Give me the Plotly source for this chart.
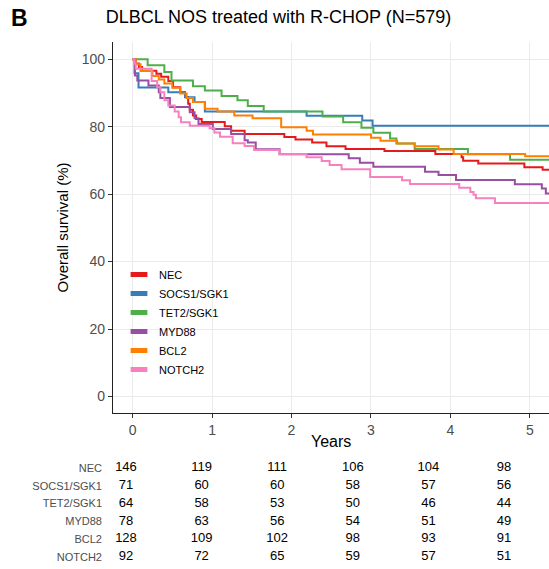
import plotly.graph_objects as go

# ---------------- data ----------------
groups = ["NEC", "SOCS1/SGK1", "TET2/SGK1", "MYD88", "BCL2", "NOTCH2"]
colors = ["#E41A1C", "#377EB8", "#4DAF4A", "#984EA3", "#FF7F00", "#F781BF"]

nec_time = [0, 0.04, 0.08, 0.12, 0.30, 0.36, 0.45, 0.51, 0.60, 0.66, 0.70, 0.72, 0.76, 0.80, 0.87,
            1.16, 1.24, 1.41, 1.91, 2.05, 2.26, 2.44, 2.68, 3.17, 3.81, 4.14, 4.16, 4.35, 4.93, 5.16, 5.5]
nec_surv = [100, 98.7, 97.7, 96.6, 95.7, 94.8, 93.5, 91.7, 90.2, 88.8, 86.8, 85.0, 83.3, 82.3, 81.4,
            80.1, 78.8, 77.8, 76.9, 76.2, 75.3, 74.2, 73.4, 72.8, 71.9, 70.9, 69.9, 69.1, 68.0, 67.2, 67.2]

socs1_time = [0, 0.025, 0.075, 0.45, 0.66, 0.78, 0.91, 2.19, 2.89, 3.02, 5.5]
socs1_surv = [100, 95.8, 91.6, 90.2, 88.7, 87.3, 84.5, 83.2, 81.8, 80.3, 80.3]

tet2_time = [0, 0.19, 0.40, 0.49, 0.76, 0.91, 1.12, 1.32, 1.45, 1.65, 2.39, 2.65, 2.88, 3.03,
             3.24, 3.32, 3.55, 4.22, 4.75, 5.5]
tet2_surv = [100, 98.2, 96.2, 93.7, 92.0, 90.7, 89.1, 87.8, 86.1, 84.5, 83.0, 81.3, 79.7, 78.2,
             76.5, 75.0, 73.4, 71.8, 70.2, 70.2]

myd88_time = [0, 0.03, 0.06, 0.20, 0.33, 0.35, 0.47, 0.72, 0.78, 0.83, 1.01, 1.24, 1.41, 1.45,
              1.55, 1.85, 2.72, 2.86, 3.03, 3.68, 3.85, 4.07, 4.81, 5.15, 5.20, 5.5]
myd88_surv = [100, 95.2, 93.7, 92.2, 90.2, 88.5, 85.8, 84.3, 82.5, 80.8, 79.3, 77.8, 76.0, 75.3,
              73.3, 71.8, 70.6, 69.3, 68.1, 66.6, 65.7, 64.2, 62.9, 61.7, 60.2, 60.2]

bcl2_time = [0, 0.04, 0.10, 0.25, 0.33, 0.40, 0.50, 0.60, 0.68, 0.76, 0.91, 1.07, 1.28, 1.51,
             1.87, 2.19, 2.27, 3.0, 3.12, 3.33, 3.55, 3.85, 4.04, 4.94, 5.5]
bcl2_surv = [100, 98.5, 96.5, 95.0, 94.0, 92.8, 91.5, 89.8, 88.5, 87.3, 85.3, 84.5, 83.3, 82.5,
             79.8, 78.8, 77.7, 76.7, 75.8, 75.0, 74.2, 73.2, 71.9, 71.2, 71.2]

notch2_time = [0, 0.02, 0.04, 0.24, 0.31, 0.35, 0.40, 0.45, 0.53, 0.58, 0.61, 0.72, 0.97, 1.03,
               1.10, 1.26, 1.41, 1.53, 1.85, 2.19, 2.38, 2.48, 2.63, 2.99, 3.39, 3.49, 4.11,
               4.25, 4.29, 4.32, 4.56, 5.5]
notch2_surv = [100, 98.7, 97.2, 93.5, 91.7, 90.2, 87.8, 86.3, 84.5, 82.8, 81.3, 80.3, 79.5, 78.3,
               77.0, 75.1, 74.3, 73.1, 71.9, 70.9, 69.8, 68.6, 67.4, 65.1, 64.1, 63.0, 61.9,
               60.6, 59.8, 58.8, 57.4, 57.4]

risk_times = [0, 1, 2, 3, 4, 5]
nec_risk = [146, 119, 111, 106, 104, 98]
socs1_risk = [71, 60, 60, 58, 57, 56]
tet2_risk = [64, 58, 53, 50, 46, 44]
myd88_risk = [78, 63, 56, 54, 51, 49]
bcl2_risk = [128, 109, 102, 98, 93, 91]
notch2_risk = [92, 72, 65, 59, 57, 51]

x_ticks = [0, 1, 2, 3, 4, 5]
y_ticks = [0, 20, 40, 60, 80, 100]

curves = [(nec_time, nec_surv), (socs1_time, socs1_surv), (tet2_time, tet2_surv),
          (myd88_time, myd88_surv), (bcl2_time, bcl2_surv), (notch2_time, notch2_surv)]
risks = [nec_risk, socs1_risk, tet2_risk, myd88_risk, bcl2_risk, notch2_risk]

FONT = "Liberation Sans, Arial, sans-serif"

fig = go.Figure()

for g, c, (t, s) in zip(groups, colors, curves):
    fig.add_trace(go.Scatter(x=t, y=s, mode="lines", line=dict(color=c, width=2, shape="hv"),
                             name=g, showlegend=False, hoverinfo="skip"))

# legend swatches
for g, c in zip(groups, colors):
    fig.add_trace(go.Scatter(x=[None], y=[None], mode="markers", name=g, legendgroup=g,
                             marker=dict(symbol="line-ew", size=12, color=c,
                                         line=dict(width=6, color=c)),
                             showlegend=True))

# risk table
for i, (g, r) in enumerate(zip(groups, risks)):
    fig.add_trace(go.Scatter(x=risk_times, y=[i] * len(r), text=[str(v) for v in r],
                             mode="text", textfont=dict(size=13, color="black", family=FONT),
                             xaxis="x2", yaxis="y2", showlegend=False, hoverinfo="skip"))

W, H = 549, 569
L, T = 113, 42
ph = H - T


def py(px):
    return (H - px) / ph


def pxx(px):
    return (px - L) / (W - L)


fig.update_layout(
    width=W, height=H,
    margin=dict(l=L, r=0, t=T, b=0, pad=0),
    plot_bgcolor="white", paper_bgcolor="white",
    font=dict(family=FONT, color="black"),
    title=dict(text="DLBCL NOS treated with R-CHOP (N=579)", x=278.5 / W, xanchor="center",
               y=1 - 16.5 / H, yanchor="middle", font=dict(size=18, color="black")),
    xaxis=dict(domain=[0, 1], range=[-0.246, 5.24], tickvals=x_ticks, showgrid=True,
               gridcolor="#EBEBEB", gridwidth=1, zeroline=False, showline=True,
               linecolor="#222", linewidth=1.2, ticks="outside", ticklen=4, tickcolor="#333",
               tickfont=dict(size=14, color="#4D4D4D"), anchor="y"),
    yaxis=dict(domain=[py(413), 1], range=[-4.9, 105.1], tickvals=y_ticks, showgrid=True,
               gridcolor="#EBEBEB", gridwidth=1, zeroline=False, showline=True,
               linecolor="#222", linewidth=1.2, ticks="outside", ticklen=4, tickcolor="#333",
               tickfont=dict(size=14, color="#4D4D4D"), anchor="x"),
    xaxis2=dict(domain=[0, 1], range=[-0.172, 5.595], visible=False, anchor="y2"),
    yaxis2=dict(domain=[py(565.9), py(459.1)], range=[5.5, -0.5], tickvals=list(range(6)),
                ticktext=groups, showgrid=False, zeroline=False, showline=False, ticks="",
                tickfont=dict(size=11, color="#4D4D4D"), anchor="x2", ticklabelstandoff=10),
    legend=dict(x=pxx(119), y=py(260), xanchor="left", yanchor="top",
                bgcolor="rgba(0,0,0,0)", font=dict(size=11, color="black"),
                tracegroupgap=0, itemclick=False),
    annotations=[
        dict(text="<b>B</b>", xref="paper", yref="paper", x=pxx(9), y=py(18.5),
             xanchor="left", yanchor="middle", showarrow=False, font=dict(size=23, color="black")),
        dict(text="Years", xref="paper", yref="paper", x=0.5, y=py(441),
             xanchor="center", yanchor="middle", showarrow=False, font=dict(size=16, color="black")),
        dict(text="Overall survival (%)", xref="paper", yref="paper", x=pxx(62), y=py(227.5),
             xanchor="center", yanchor="middle", textangle=-90, showarrow=False,
             font=dict(size=15, color="black")),
    ],
)

# remove the default 8px page margin so the figure fills the window exactly
fig.write_html("out.html",
               config={"displayModeBar": False},
               post_script="document.body.style.margin='0';document.body.style.overflow='hidden';")
